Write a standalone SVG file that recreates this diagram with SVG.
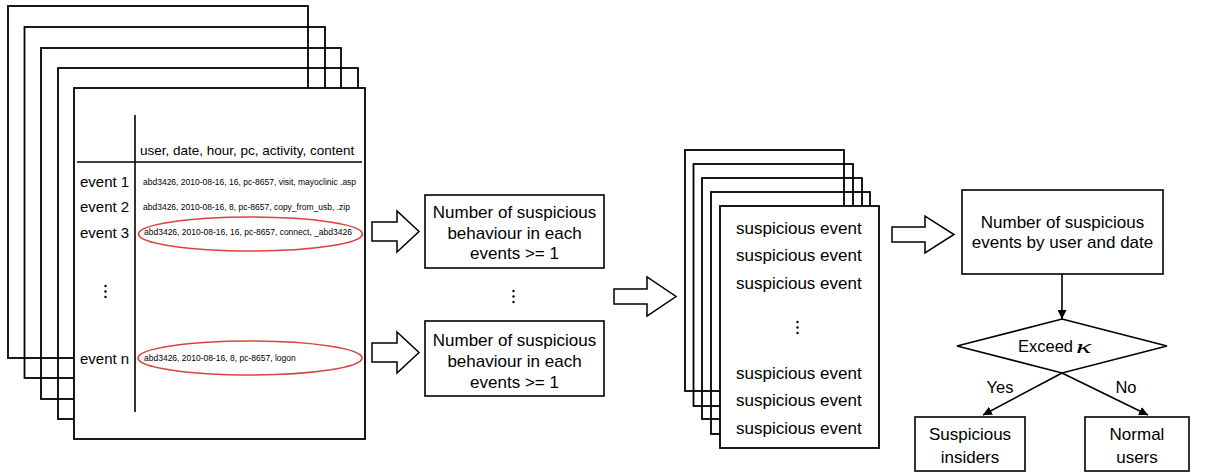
<svg xmlns="http://www.w3.org/2000/svg" width="1210" height="472" viewBox="0 0 1210 472">
<style>
text{font-family:"Liberation Sans",Arial,Helvetica,sans-serif;fill:#000}
.pg{fill:none;stroke:#000;stroke-width:1.8}
.front{fill:#fff;stroke:#000;stroke-width:1.8}
.box{fill:#fff;stroke:#000;stroke-width:1.6}
.ln{fill:none;stroke:#000;stroke-width:1.6}
.barrow{fill:#fff;stroke:#000;stroke-width:1.5;stroke-linejoin:miter}
.ell{fill:none;stroke:#d9453e;stroke-width:1.6}
.ev{font-size:15px}
.hd{font-size:13.5px}
.sm{font-size:8.5px}
.bt{font-size:17px;text-anchor:middle}
.se{font-size:17px}
.lbl{font-size:16.5px;text-anchor:middle}
.dot{fill:#000}
.kap{font-family:"Liberation Serif","DejaVu Serif",serif;font-style:italic;font-size:19px}
</style>
<defs>
<marker id="ah" viewBox="0 0 10 10" refX="10" refY="5" markerWidth="9" markerHeight="9" markerUnits="userSpaceOnUse" orient="auto">
<path d="M0,0 L10,5 L0,10 z" fill="#000"/>
</marker>
</defs>

<g id="event-log-stack">
<rect class="pg" x="8" y="6" width="300" height="352"/>
<rect class="pg" x="24.5" y="27" width="300.5" height="351"/>
<rect class="pg" x="41" y="48" width="300" height="351"/>
<rect class="pg" x="58" y="68" width="300" height="351"/>
<rect class="front" x="74" y="88" width="291" height="351"/>
<line class="ln" x1="135" y1="115" x2="135" y2="412"/>
<line class="ln" x1="77" y1="162" x2="362" y2="162"/>
<text class="hd" x="140" y="155">user, date, hour, pc, activity, content</text>
<text class="ev" x="80" y="187">event 1</text>
<text class="ev" x="80" y="212">event 2</text>
<text class="ev" x="80" y="238">event 3</text>
<text class="ev" x="80" y="364">event n</text>
<text class="sm" x="143" y="185">abd3426, 2010-08-16, 16, pc-8657, visit, mayoclinic .asp</text>
<text class="sm" x="143" y="210">abd3426, 2010-08-16, 8, pc-8657, copy_from_usb, .zip</text>
<text class="sm" x="144" y="235">abd3426, 2010-08-16, 16, pc-8657, connect, _abd3426</text>
<text class="sm" x="144" y="361">abd3426, 2010-08-16, 8, pc-8657, logon</text>
<ellipse class="ell" cx="250.5" cy="234" rx="112" ry="17"/>
<ellipse class="ell" cx="250" cy="358" rx="112" ry="17"/>
<circle class="dot" cx="105.5" cy="286" r="1.2"/>
<circle class="dot" cx="105.5" cy="291.5" r="1.2"/>
<circle class="dot" cx="105.5" cy="297" r="1.2"/>
</g>

<g id="filter-box-1">
<rect class="box" x="425" y="195" width="179" height="73"/>
<text class="bt" x="514.5" y="218">Number of suspicious</text>
<text class="bt" x="514.5" y="238.5">behaviour in each</text>
<text class="bt" x="514.5" y="259">events &gt;= 1</text>
</g>

<g id="filter-dots">
<circle class="dot" cx="513.5" cy="291" r="1.2"/>
<circle class="dot" cx="513.5" cy="296.5" r="1.2"/>
<circle class="dot" cx="513.5" cy="302" r="1.2"/>
</g>

<g id="filter-box-2">
<rect class="box" x="425" y="321" width="179" height="75"/>
<text class="bt" x="514.5" y="346">Number of suspicious</text>
<text class="bt" x="514.5" y="367">behaviour in each</text>
<text class="bt" x="514.5" y="388">events &gt;= 1</text>
</g>

<g id="suspicious-stack">
<rect class="pg" x="685" y="150" width="159" height="241"/>
<rect class="pg" x="693.5" y="164" width="159.5" height="242"/>
<rect class="pg" x="702" y="178" width="160" height="241"/>
<rect class="pg" x="711" y="192" width="159" height="242"/>
<rect class="front" x="720" y="206" width="159" height="242"/>
<text class="se" x="736" y="234">suspicious event</text>
<text class="se" x="736" y="261">suspicious event</text>
<text class="se" x="736" y="289">suspicious event</text>
<circle class="dot" cx="797.5" cy="322" r="1.2"/>
<circle class="dot" cx="797.5" cy="327.5" r="1.2"/>
<circle class="dot" cx="797.5" cy="333" r="1.2"/>
<text class="se" x="736" y="379">suspicious event</text>
<text class="se" x="736" y="406">suspicious event</text>
<text class="se" x="736" y="434">suspicious event</text>
</g>

<g id="count-box">
<rect class="box" x="962" y="190" width="201" height="84"/>
<text class="bt" x="1062.5" y="228">Number of suspicious</text>
<text class="bt" x="1062.5" y="248">events by user and date</text>
</g>

<g id="decision">
<polygon class="box" points="1062,319 1167,346 1062,373 957,346"/>
<text x="1018" y="352" style="font-size:16.5px">Exceed</text>
<text class="kap" transform="translate(1076,353) scale(1.7,1)" x="0" y="0">κ</text>
</g>

<g id="suspicious-insiders">
<rect class="box" x="915" y="417" width="110" height="54"/>
<text class="bt" x="970" y="440">Suspicious</text>
<text class="bt" x="970" y="463">insiders</text>
</g>

<g id="normal-users">
<rect class="box" x="1085" y="417" width="104" height="54"/>
<text class="bt" x="1137" y="440">Normal</text>
<text class="bt" x="1137" y="463">users</text>
</g>

<g id="connectors">
<polygon class="barrow" points="372,222 397,222 397,211 419,231.5 397,252 397,241 372,241"/>
<polygon class="barrow" points="372,343 397,343 397,332 419,352.5 397,373 397,362 372,362"/>
<polygon class="barrow" points="614,289 647,289 647,277 676,296.5 647,316 647,304 614,304"/>
<polygon class="barrow" points="892,227 925,227 925,216 954,234.5 925,253 925,242 892,242"/>
<line class="ln" x1="1062" y1="274" x2="1062" y2="319" marker-end="url(#ah)"/>
<line class="ln" x1="1062" y1="373" x2="983" y2="415" marker-end="url(#ah)"/>
<line class="ln" x1="1062" y1="373" x2="1148" y2="415" marker-end="url(#ah)"/>
<text class="lbl" x="1000" y="393">Yes</text>
<text class="lbl" x="1126" y="393">No</text>
</g>
</svg>
